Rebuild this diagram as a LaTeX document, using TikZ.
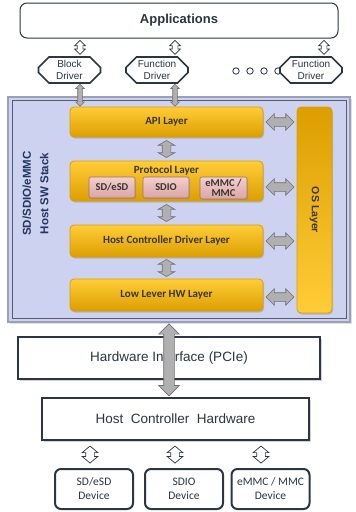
\documentclass[tikz,border=0pt]{standalone}
\usepackage{fontspec}
\setmainfont{Liberation Sans}
\newfontfamily\carlito{Carlito}
\usetikzlibrary{arrows.meta,positioning,calc,shapes.arrows,shapes.misc,shadows}
\definecolor{ink}{HTML}{2B3545}
\definecolor{title}{HTML}{22365E}
\definecolor{txt}{HTML}{3A3530}
\definecolor{stackbg}{HTML}{CDD2F0}
\definecolor{stackline}{HTML}{9AA0B8}
\definecolor{layerlt}{HTML}{FFCD38}
\definecolor{layer}{HTML}{FFC000}
\definecolor{layerdk}{HTML}{DC9E00}
\definecolor{protolt}{HTML}{F2CFCE}
\definecolor{protodk}{HTML}{D9A5A4}
\definecolor{pipe}{HTML}{B0B0B0}
\definecolor{pipedk}{HTML}{707070}

\begin{document}
\begin{tikzpicture}[x=1pt,y=-1pt,>=Stealth,
  app/.style={draw=ink,line width=1pt,rounded corners=7pt,fill=white,
    minimum width=318,minimum height=35,text=ink,
    font=\fontsize{13}{15}\selectfont\bfseries},
  drv/.style={chamfered rectangle,chamfered rectangle xsep=7pt,draw=ink,
    line width=1.6pt,fill=white,minimum width=62,minimum height=26,inner sep=0pt,
    align=center,text=ink,font=\fontsize{10}{11.5}\selectfont},
  stackbox/.style={draw=stackline,line width=1.5pt,fill=stackbg,
    minimum width=342,minimum height=225,
    drop shadow={opacity=0.25,shadow xshift=1.5pt,shadow yshift=-1.5pt}},
  layerbox/.style={rounded corners=4pt,draw=layerdk,line width=0.8pt,
    top color=layerlt,middle color=layer,bottom color=layerdk,
    minimum width=193,text=txt,font=\carlito\fontsize{11}{12}\selectfont\bfseries,
    drop shadow={opacity=0.35,shadow xshift=1pt,shadow yshift=-1.5pt}},
  protobox/.style={rounded corners=2pt,draw=protodk!70!black,line width=0.6pt,
    top color=protolt,bottom color=protodk,minimum width=46,minimum height=21,
    inner sep=0pt,align=center,text=txt,
    font=\carlito\fontsize{10.5}{10.5}\selectfont\bfseries,
    drop shadow={opacity=0.3,shadow xshift=1pt,shadow yshift=-1pt}},
  hwbox/.style={draw=ink,line width=2.2pt,fill=white,minimum height=42,text=ink,
    font=\fontsize{13.5}{15}\selectfont,
    drop shadow={opacity=0.35,shadow xshift=2pt,shadow yshift=-2pt}},
  devbox/.style={draw=ink,line width=2pt,rounded corners=6pt,fill=white,
    minimum width=78,minimum height=40,align=center,text=ink,
    font=\carlito\fontsize{11.5}{14}\selectfont},
  thinarr/.style={double arrow,draw=ink,fill=white,line width=0.7pt,
    inner xsep=0pt,inner ysep=2.5pt,double arrow head extend=2.5pt,minimum height=#1},
  devarr/.style={double arrow,draw=ink,fill=white,line width=0.7pt,
    inner xsep=0pt,inner ysep=4pt,double arrow head extend=3.5pt,
    double arrow tip angle=100,minimum height=#1},
  garrow/.style={double arrow,draw=pipedk,fill=pipe,line width=0.6pt,
    inner xsep=0pt,inner ysep=4pt,double arrow head extend=4pt,minimum height=#1},
  drvarr/.style={double arrow,draw=pipedk,fill=pipe,line width=0.6pt,
    inner xsep=0pt,inner ysep=2pt,double arrow head extend=2pt,minimum height=#1}]
  \useasboundingbox (0,0) rectangle (356,512);

  % applications and drivers
  \node[app] (app) at (179,20.5) {Applications};
  \foreach \x in {236,250,264,278}
    \draw[ink,line width=0.8pt,fill=white] (\x,71) circle (3.2pt);
  \node[drv] (bd) at (69.5,70) {Block\\Driver};
  \node[drv] (fd) at (157,70) {Function\\Driver};
  \node[drv] (od) at (311,70) {Function\\Driver};
  \foreach \n/\x in {bd/80,fd/175,od/324}
    \coordinate (\n x) at (\x,0);
  \foreach \n in {bd,fd,od}
    \path (app.south -| \n x) -- node[thinarr=14,sloped] {} (\n.north -| \n x);

  % host software stack
  \node[stackbox] (stack) at (179,209.5) {};
  \draw[ink!80,line width=0.8pt] ($(stack.north west)+(5,4)$) rectangle ($(stack.south east)+(-4,-4)$);
  \node[rotate=90,align=center,text=title,font=\fontsize{11.5}{17.3}\selectfont\bfseries]
    (stitle) at (35.5,193.5) {SD/SDIO/eMMC\\Host SW Stack};

  \node[layerbox,minimum height=30] (api) at (166.5,122) {API Layer};
  \node[layerbox,minimum height=40,
    label={[anchor=north,text=txt,font=\carlito\fontsize{11}{12}\selectfont\bfseries,yshift=-2pt]north:Protocol Layer}]
    (proto) at (166.5,181) {};
  \node[layerbox,minimum height=32] (hcd) at (166.5,241) {Host Controller Driver Layer};
  \node[layerbox,minimum height=32] (low) at (166.5,295) {Low Lever HW Layer};
  \node[layerbox,rotate=-90,minimum width=206,minimum height=35,
    top color=layerdk,bottom color=layerlt,font=\fontsize{10.5}{12}\selectfont\bfseries]
    (os) at (314.5,210) {OS Layer};

  \node[protobox] (psd) at (112,187.5) {SD/eSD};
  \node[protobox] (psdio) at (166,187.5) {SDIO};
  \node[protobox,minimum width=47,minimum height=22] (pmmc) at (223.5,188) {eMMC /\\MMC};

  \foreach \a/\b in {api/proto,proto/hcd,hcd/low}
    \path (\a.south) -- node[garrow=17,sloped,double arrow tip angle=120] {} (\b.north);
  \foreach \l/\dy in {api/0,proto/-6,hcd/0,low/-2}
    \path ([yshift=\dy]\l.east) -- node[garrow=28] {} ([yshift=\dy]\l.east -| os.south);
  \foreach \n in {bd,fd}
    \path (\n.south -| \n x) -- node[drvarr=22,sloped] {} (api.north -| \n x);

  % hardware
  \node[hwbox,minimum width=302] (hwif) at (169,358) {Hardware Interface (PCIe)};
  \node[hwbox,minimum width=267] (hch) at (175.5,419) {Host\ \ Controller\ \ Hardware};
  \coordinate (busx) at (169,0);
  \path (stack.south -| busx) -- node[garrow=72,sloped,inner ysep=5pt,
    double arrow head extend=5pt] {} (hch.north -| busx);

  % devices
  \foreach \n/\x/\t in {dsd/94/{SD/eSD\\Device},dsdio/184/{SDIO\\Device},dmmc/270.5/{eMMC / MMC\\Device}}
    \node[devbox] (\n) at (\x,489) {\t};
  \foreach \n/\x in {dsd/90,dsdio/175,dmmc/261}
    \path (hch.south -| \x,0) -- node[devarr=17,sloped] {} (\n.north -| \x,0);
\end{tikzpicture}
\end{document}
